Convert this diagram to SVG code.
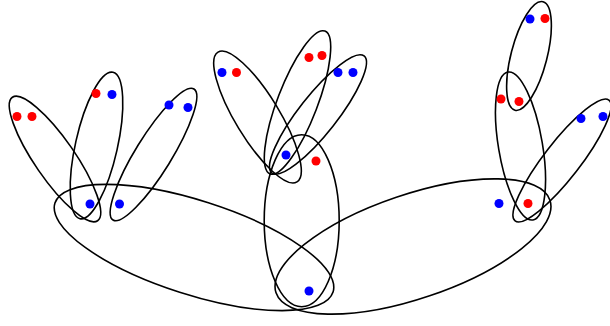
<svg xmlns="http://www.w3.org/2000/svg" width="610" height="326" viewBox="0 0 610 326">
<style>
.e{fill:none;stroke:#000;stroke-width:1.6}
.r{fill:#f00}
.b{fill:#00f}
</style>
<rect width="610" height="326" fill="#fff"/>
<g id="edges">
<ellipse class="e" cx="55" cy="159" rx="75" ry="20" transform="rotate(55.4 55 159)"/>
<ellipse class="e" cx="96.5" cy="145.5" rx="75" ry="21" transform="rotate(-77.3 96.5 145.5)"/>
<ellipse class="e" cx="153.5" cy="154.5" rx="77" ry="18" transform="rotate(-58.3 153.5 154.5)"/>
<ellipse class="e" cx="194" cy="247.5" rx="146" ry="47" transform="rotate(17.75 194 247.5)"/>
<ellipse class="e" cx="257.5" cy="117" rx="76" ry="22" transform="rotate(58.7 257.5 117)"/>
<ellipse class="e" cx="297.5" cy="102.5" rx="76.5" ry="20" transform="rotate(-69 297.5 102.5)"/>
<ellipse class="e" cx="318" cy="114.5" rx="74.5" ry="19" transform="rotate(-51.8 318 114.5)"/>
<ellipse class="e" cx="301.7" cy="220.7" rx="37.5" ry="86"/>
<ellipse class="e" cx="413" cy="246.5" rx="144.6" ry="52" transform="rotate(-18.7 413 246.5)"/>
<ellipse class="e" cx="520.5" cy="146" rx="75" ry="22" transform="rotate(80.4 520.5 146)"/>
<ellipse class="e" cx="529" cy="56" rx="56" ry="18" transform="rotate(104.5 529 56)"/>
<ellipse class="e" cx="562" cy="160.5" rx="76.5" ry="18" transform="rotate(127.8 562 160.5)"/>
</g>
<g id="n1"><circle class="r" cx="17" cy="116.5" r="4.5"/></g>
<g id="n2"><circle class="r" cx="32" cy="116.5" r="4.5"/></g>
<g id="n3"><circle class="r" cx="96" cy="93.5" r="4.5"/></g>
<g id="n4"><circle class="b" cx="112" cy="94.5" r="4.5"/></g>
<g id="n5"><circle class="b" cx="169" cy="105" r="4.5"/></g>
<g id="n6"><circle class="b" cx="188" cy="107.5" r="4.5"/></g>
<g id="n7"><circle class="b" cx="90" cy="204" r="4.5"/></g>
<g id="n8"><circle class="b" cx="119.5" cy="204" r="4.5"/></g>
<g id="n9"><circle class="b" cx="222" cy="72.5" r="4.5"/></g>
<g id="n10"><circle class="r" cx="236.5" cy="72.5" r="4.5"/></g>
<g id="n11"><circle class="r" cx="309" cy="57.5" r="4.5"/></g>
<g id="n12"><circle class="r" cx="322" cy="55.5" r="4.5"/></g>
<g id="n13"><circle class="b" cx="338" cy="72.5" r="4.5"/></g>
<g id="n14"><circle class="b" cx="353" cy="72.5" r="4.5"/></g>
<g id="n15"><circle class="b" cx="286" cy="155" r="4.5"/></g>
<g id="n16"><circle class="r" cx="316" cy="161" r="4.5"/></g>
<g id="n17"><circle class="b" cx="309" cy="291" r="4.5"/></g>
<g id="n18"><circle class="b" cx="530" cy="19" r="4.5"/></g>
<g id="n19"><circle class="r" cx="545" cy="18.5" r="4.5"/></g>
<g id="n20"><circle class="r" cx="501" cy="99" r="4.5"/></g>
<g id="n21"><circle class="r" cx="519" cy="101.5" r="4.5"/></g>
<g id="n22"><circle class="b" cx="581" cy="118.5" r="4.5"/></g>
<g id="n23"><circle class="b" cx="603" cy="116.5" r="4.5"/></g>
<g id="n24"><circle class="b" cx="499" cy="203.5" r="4.5"/></g>
<g id="n25"><circle class="r" cx="528" cy="203.5" r="4.5"/></g>
</svg>
